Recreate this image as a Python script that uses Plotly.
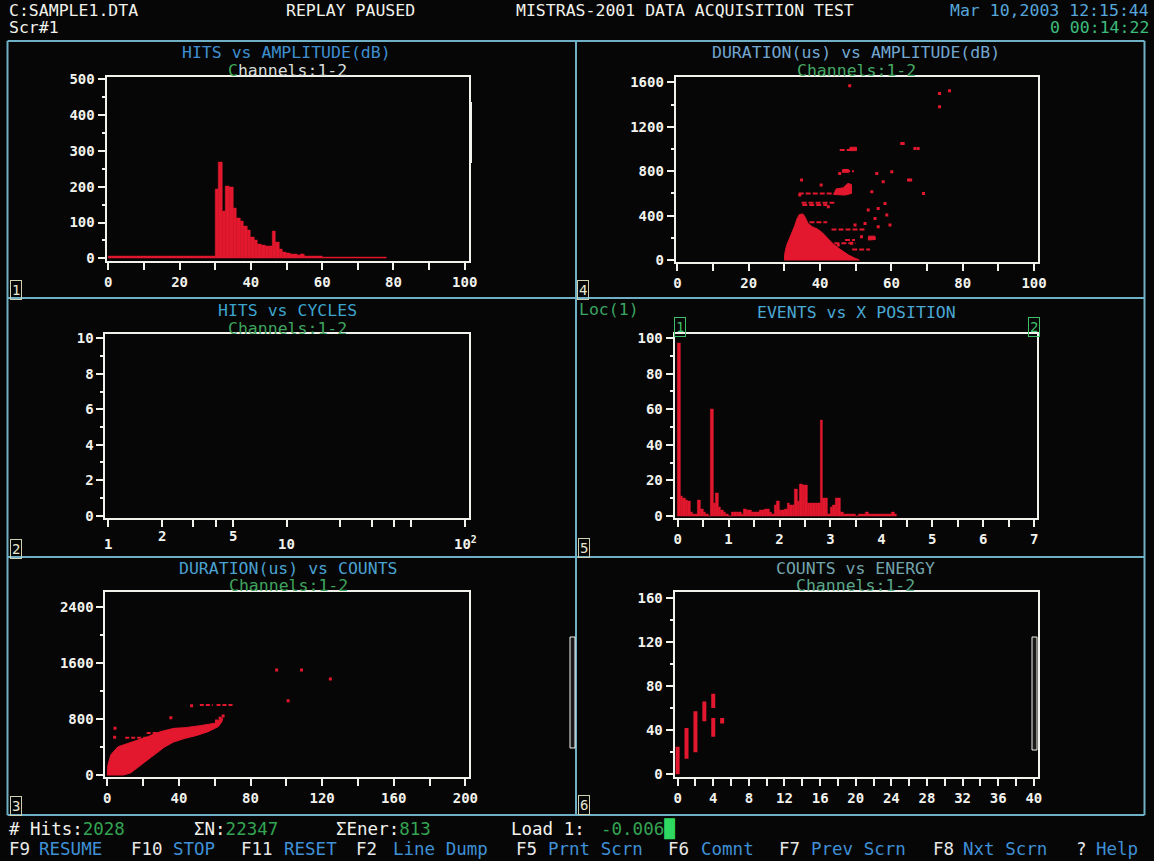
import math
import plotly.graph_objects as go

W, H = 1154, 861
BG = "#060606"
RED = "#e3182e"
WHITE = "#f2f2ec"
FRAME = "#6fb0c6"
MONO = "DejaVu Sans Mono"

# ---------------- data ----------------
# Panel 1: hits per 1 dB amplitude bin (bin start, dB)
AMP_DB = list(range(78))
HITS_PER_DB = [5, 5, 5, 5, 5, 5, 5, 5, 5, 5,
               5, 5, 5, 5, 5, 5, 5, 5, 5, 5,
               5, 5, 5, 5, 5, 5, 5, 5, 5, 5,
               192, 268, 131, 201, 198, 141, 113, 103, 90, 79,
               60, 51, 40, 37, 33, 34, 76, 46, 24, 16,
               14, 12, 10, 9, 10, 7, 7, 6, 6, 5,
               4, 4, 4, 4, 4, 4, 4, 4, 4, 4,
               4, 4, 4, 4, 4, 4, 4, 4]
AMP_TICKS = [0, 20, 40, 60, 80, 100]
HITS_TICKS = [0, 100, 200, 300, 400, 500]

# Panel 2: hits vs cycles (no hits recorded)
CYCLE_TICKS = [1, 2, 3, 4, 5, 10, 20, 30, 40, 50, 100]
CYCLE_LABELS = [(1, "1", 544), (2, "2", 536), (5, "5", 536), (10, "10", 544), (100, "10<sup>2</sup>", 543)]
CYCLE_HITS_TICKS = [0, 2, 4, 6, 8, 10]

# Panel 3: duration (us) vs counts
DC_CORE_COUNTS = [0, 0.3, 2, 5.8, 11.4, 17.6, 22.7, 26.9, 31, 37.2, 43.4, 51.7, 59.9, 63, 64.5,
                  64, 62, 56, 50, 43, 37, 32, 28, 23, 18, 13, 9, 0]
DC_CORE_DUR = [0, 140, 290, 400, 450, 500, 547, 594, 627, 665, 675, 703, 737, 790, 810,
               760, 690, 615, 565, 520, 470, 400, 320, 220, 120, 30, 0, 0]
DC_STREAKS = [(51.7, 58.9, 998), (61.0, 70.2, 998), (10.0, 27.0, 532), (22.0, 34.0, 600)]
DC_DOT_COUNTS = [4.3, 4.1, 47.1, 94.6, 108.5, 124.6, 101.0, 35.5, 63.0, 64.7, 61.0, 45.0]
DC_DOT_DUR = [665, 540, 989, 1497, 1497, 1369, 1060, 817, 808, 840, 770, 640]
COUNT_TICKS = [0, 40, 80, 120, 160, 200]
DC_DUR_TICKS = [0, 800, 1600, 2400]

# Panel 4: duration (us) vs amplitude (dB)
DA_CORE_AMP = [30.0, 30.1, 30.6, 31.4, 32.2, 32.9, 33.5, 34.2, 35.2, 35.9, 36.6, 37.8, 39.2,
               40.5, 42.0, 43.5, 45.0, 46.5, 48.0, 49.5, 51.0, 30.0]
DA_CORE_DUR = [0, 60, 130, 190, 250, 310, 370, 410, 415, 380, 330, 300, 280,
               250, 200, 150, 110, 75, 45, 20, 0, 0]
DA_BLOBS = [
    ([43.8, 44.5, 46.5, 47.8, 48.8, 48.8, 47.0, 45.0], [590, 640, 650, 690, 680, 600, 585, 585]),
    ([48.3, 48.4, 50.2, 50.2], [985, 1015, 1015, 985]),
    ([53.5, 53.6, 55.4, 55.5], [180, 215, 215, 185]),
    ([46.2, 46.3, 48.0, 48.0], [790, 815, 815, 790]),
]
DA_STREAKS = [(34.0, 44.0, 600), (34.8, 44.0, 515), (35.0, 42.0, 495), (43.2, 52.6, 275),
              (47.0, 49.8, 180), (37.0, 42.0, 340), (45.5, 49.0, 990), (47.0, 49.5, 800),
              (44.0, 50.0, 150), (49.0, 54.0, 95)]
DA_DOT_AMP = [48.3, 73.5, 76.3, 73.5, 63.3, 67.5, 69.0, 65.4, 55.9, 60.1, 57.7, 64.8, 62.9,
              66.6, 54.5, 58.2, 56.3, 53.5, 55.4, 58.7, 59.6, 56.3, 52.6, 49.8, 51.6, 48.8,
              45.1, 45.5, 34.8, 34.3, 40.3, 42.3]
DA_DOT_DUR = [1570, 1500, 1525, 1380, 1050, 1005, 600, 720, 780, 795, 705, 720, 1050,
              1005, 615, 510, 465, 450, 375, 405, 315, 300, 330, 315, 210, 150,
              135, 780, 720, 585, 675, 480]
DUR_TICKS = [0, 400, 800, 1200, 1600]

# Panel 5: located events per 0.05 position bin
POS_BIN = 0.05
EVENTS_PER_BIN = [97, 11, 10, 9, 8, 2, 1, 1, 9, 4,
                  2, 1, 0, 60, 7, 13, 5, 3, 2, 1,
                  0, 2, 2, 2, 2, 1, 4, 3, 3, 2,
                  2, 2, 3, 3, 4, 4, 2, 1, 6, 8,
                  3, 3, 4, 7, 6, 6, 15, 8, 18, 17,
                  17, 7, 7, 7, 7, 7, 54, 10, 10, 1,
                  5, 6, 10, 10, 2, 1, 1, 1, 1, 1,
                  0, 1, 1, 1, 2, 1, 1, 1, 1, 1,
                  1, 1, 1, 1, 2, 1]
POS_TICKS = [0, 1, 2, 3, 4, 5, 6, 7]
EVENT_TICKS = [0, 20, 40, 60, 80, 100]

# Panel 6: counts vs energy (vertical runs per energy value)
CE_ENERGY = [0, 1, 2, 3, 4, 4, 5]
CE_COUNT_LO = [0, 14, 20, 48, 60, 34, 46]
CE_COUNT_HI = [25, 42, 57, 66, 73, 51, 51]
ENERGY_TICKS = [0, 4, 8, 12, 16, 20, 24, 28, 32, 36, 40]
CE_COUNT_TICKS = [0, 40, 80, 120, 160]


# ---------------- helpers ----------------
def fx(x):
    return x / W


def fy(y):
    return 1 - y / H


TICKFONT = dict(family=MONO, size=14, color=WHITE, weight="bold")


def base_axis(**kw):
    d = dict(showline=True, linecolor=WHITE, linewidth=2, mirror=True, automargin=False,
             ticks="outside", tickcolor=WHITE, tickwidth=2, ticklen=7,
             showgrid=False, zeroline=False, fixedrange=True, tickfont=TICKFONT)
    d.update(kw)
    return d


def xaxis(left, right, rng, anchor, ticks=None, minor_step=None, **kw):
    if ticks is not None:
        kw.update(tickmode="array", tickvals=ticks, ticktext=[str(t) for t in ticks])
    if minor_step is not None:
        kw["minor"] = dict(dtick=minor_step, tick0=0, ticks="outside", ticklen=7,
                           tickwidth=2, tickcolor=WHITE, showgrid=False)
    return base_axis(domain=[fx(left), fx(right)], range=rng, anchor=anchor, **kw)


def yaxis(top, bottom, rng, anchor, ticks, minor_step):
    return base_axis(domain=[fy(bottom), fy(top)], range=rng, anchor=anchor,
                     tickmode="array", tickvals=ticks, ticktext=[str(t) for t in ticks],
                     minor=dict(dtick=minor_step, tick0=0, ticks="outside", ticklen=3,
                                tickwidth=2, tickcolor=WHITE, showgrid=False))


def segments(x0s, x1s, ys):
    xs, yv = [], []
    for a, b, c in zip(x0s, x1s, ys):
        xs += [a, b, None]
        yv += [c, c, None]
    return xs, yv


fig = go.Figure()

# Panel 1: HITS vs AMPLITUDE
fig.add_trace(go.Bar(x=[b + 0.5 for b in AMP_DB], y=HITS_PER_DB, width=1,
                     marker=dict(color=RED, line=dict(color=RED, width=0.5)),
                     xaxis="x", yaxis="y", hoverinfo="skip"))

# Panel 2: HITS vs CYCLES (empty)
fig.add_trace(go.Scatter(x=[], y=[], xaxis="x2", yaxis="y2", mode="markers"))

# Panel 3: DURATION vs COUNTS
fig.add_trace(go.Scatter(x=DC_CORE_COUNTS, y=DC_CORE_DUR, fill="toself", fillcolor=RED,
                         mode="lines", line=dict(color=RED, width=1),
                         xaxis="x3", yaxis="y3", hoverinfo="skip"))
sx, sy = segments([s[0] for s in DC_STREAKS], [s[1] for s in DC_STREAKS], [s[2] for s in DC_STREAKS])
fig.add_trace(go.Scatter(x=sx, y=sy, mode="lines", line=dict(color=RED, width=2, dash="4px,2px"),
                         xaxis="x3", yaxis="y3", hoverinfo="skip"))
fig.add_trace(go.Scatter(x=DC_DOT_COUNTS, y=DC_DOT_DUR, mode="markers",
                         marker=dict(symbol="square", size=3, color=RED),
                         xaxis="x3", yaxis="y3", hoverinfo="skip"))

# Panel 4: DURATION vs AMPLITUDE
fig.add_trace(go.Scatter(x=DA_CORE_AMP, y=DA_CORE_DUR, fill="toself", fillcolor=RED,
                         mode="lines", line=dict(color=RED, width=1),
                         xaxis="x4", yaxis="y4", hoverinfo="skip"))
for bx, by in DA_BLOBS:
    fig.add_trace(go.Scatter(x=bx + [bx[0]], y=by + [by[0]], fill="toself", fillcolor=RED,
                             mode="lines", line=dict(color=RED, width=1),
                             xaxis="x4", yaxis="y4", hoverinfo="skip"))
sx, sy = segments([s[0] for s in DA_STREAKS], [s[1] for s in DA_STREAKS], [s[2] for s in DA_STREAKS])
fig.add_trace(go.Scatter(x=sx, y=sy, mode="lines", line=dict(color=RED, width=2, dash="5px,2px"),
                         xaxis="x4", yaxis="y4", hoverinfo="skip"))
fig.add_trace(go.Scatter(x=DA_DOT_AMP, y=DA_DOT_DUR, mode="markers",
                         marker=dict(symbol="square", size=3, color=RED),
                         xaxis="x4", yaxis="y4", hoverinfo="skip"))

# Panel 5: EVENTS vs X POSITION
fig.add_trace(go.Bar(x=[(i + 0.5) * POS_BIN for i in range(len(EVENTS_PER_BIN))],
                     y=EVENTS_PER_BIN, width=POS_BIN,
                     marker=dict(color=RED, line=dict(color=RED, width=0.5)),
                     xaxis="x5", yaxis="y5", hoverinfo="skip"))

# Panel 6: COUNTS vs ENERGY
vx, vy = [], []
for e, lo, hi in zip(CE_ENERGY, CE_COUNT_LO, CE_COUNT_HI):
    vx += [e, e, None]
    vy += [lo, hi, None]
fig.add_trace(go.Scatter(x=vx, y=vy, mode="lines", line=dict(color=RED, width=4),
                         xaxis="x6", yaxis="y6", hoverinfo="skip"))

# ---------------- axes ----------------
layout_axes = dict(
    xaxis=xaxis(106.5, 469.0, [-0.5, 101.2], "y", AMP_TICKS, 10),
    yaxis=yaxis(77.3, 260.7, [-6.7, 505.6], "x", HITS_TICKS, 50),
    xaxis2=xaxis(105.4, 469.1, [-0.015, 2.023], "y2", type="log", tickmode="array",
                 tickvals=CYCLE_TICKS, showticklabels=False),
    yaxis2=yaxis(334.3, 518.3, [-0.15, 10.23], "x2", CYCLE_HITS_TICKS, 1),
    xaxis3=xaxis(105.4, 469.1, [-1.06, 202.1], "y3", COUNT_TICKS, 20),
    yaxis3=yaxis(592.3, 776.7, [-24, 2605], "x3", DC_DUR_TICKS, 400),
    xaxis4=xaxis(675.7, 1038.3, [-0.5, 101.2], "y4", AMP_TICKS, 10),
    yaxis4=yaxis(77.3, 261.7, [-15, 1645], "x4", DUR_TICKS, 200),
    xaxis5=xaxis(674.6, 1037.2, [-0.06, 7.06], "y5", POS_TICKS, 0.5),
    yaxis5=yaxis(334.3, 517.7, [-1.0, 102.1], "x5", EVENT_TICKS, 10),
    xaxis6=xaxis(674.6, 1038.3, [-0.34, 40.5], "y6", ENERGY_TICKS, 2),
    yaxis6=yaxis(592.3, 776.7, [-2.2, 164.9], "x6", CE_COUNT_TICKS, 20),
)

# ---------------- text ----------------
ann = []


def text(x, y, s, color=WHITE, size=17.5, anchor="left", **kw):
    ann.append(dict(x=fx(x), y=fy(y), xref="paper", yref="paper", text=s, showarrow=False,
                    xanchor=anchor, yanchor="middle", borderpad=0,
                    font=dict(family=MONO, size=size, color=color), **kw))


def boxed(x, y, s, color, border):
    ann.append(dict(x=fx(x), y=fy(y), xref="paper", yref="paper", text=s, showarrow=False,
                    xanchor="center", yanchor="middle", bordercolor=border, borderwidth=1,
                    borderpad=1, font=dict(family=MONO, size=14, color=color)))


# header
HS = 16.5
text(8, 10, "C:SAMPLE1.DTA", size=HS)
text(8, 28, "Scr#1", size=HS)
text(285, 10, "REPLAY PAUSED", size=HS)
text(515, 10, "MISTRAS-2001 DATA ACQUISITION TEST", size=HS)
text(1150, 10, "Mar 10,2003 12:15:44", color="#56a6da", anchor="right", size=HS)
text(1150, 28, "0 00:14:22", color="#3cbc7c", anchor="right", size=HS)

# panel titles
GREEN = "#3fa45e"
TS = 16.5
text(286, 52.5, "HITS vs AMPLITUDE(dB)", color="#3f8fd0", anchor="center", size=TS)
text(287, 70, "<span style='color:#3faa55'>C</span><span style='color:#d8ddd8'>hannels:1-2</span>",
     color="#d8ddd8", anchor="center", size=TS)
text(856, 52.5, "DURATION(us) vs AMPLITUDE(dB)", color="#72a6d2", anchor="center", size=TS)
text(856, 70, "Channels:1-2", color="#45a865", anchor="center", size=TS)
text(287, 310.5, "HITS vs CYCLES", color="#3ca4cc", anchor="center", size=TS)
text(287, 328, "Channels:1-2", color=GREEN, anchor="center", size=TS)
text(856, 312, "EVENTS vs X POSITION", color="#4aa8d4", anchor="center", size=TS)
text(578, 310, "Loc(1)", color="#3aa462", size=TS)
text(288, 568, "DURATION(us) vs COUNTS", color="#4aa2d2", anchor="center", size=TS)
text(288, 585.5, "Channels:1-2", color=GREEN, anchor="center", size=TS)
text(855, 568, "COUNTS vs ENERGY", color="#74a4ac", anchor="center", size=TS)
text(855, 585.5, "Channels:1-2", color="#5aa88a", anchor="center", size=TS)

# sensor markers on the location plot
boxed(680, 326.5, "1", "#3fbf6a", "#3fbf6a")
boxed(1034, 326.5, "2", "#3fbf6a", "#3fbf6a")

# panel numbers
for nx, ny, s in [(15.5, 289.5, "1"), (16, 548.7, "2"), (15.5, 805.5, "3"),
                  (583, 290, "4"), (584, 548, "5"), (584, 805, "6")]:
    boxed(nx, ny, s, "#e6e6d2", "#cfd0b0")

# cycle axis labels (staggered)
for v, s, yy in CYCLE_LABELS:
    ann.append(dict(x=math.log10(v), y=fy(yy), xref="x2", yref="paper", text=s, showarrow=False,
                    xanchor="center", yanchor="middle", font=TICKFONT))

# footer status line
NUM = "#33a452"
text(8, 829, f"# Hits:<span style='color:{NUM}'>2028</span>")
text(193, 829, f"\u03a3N:<span style='color:{NUM}'>22347</span>")
text(335, 829, f"\u03a3Ener:<span style='color:{NUM}'>813</span>")
text(510, 829, "Load 1:")
text(600, 829, f"-0.006<span style='color:#2fd860'>\u2588</span>", color=NUM)

KEY_BLUE = "#3f90d6"
FKEYS = [(8, "F9"), (130, "F10"), (240, "F11"), (355, "F2"), (515, "F5"),
         (667, "F6"), (778, "F7"), (932, "F8"), (1075, "?")]
FLABELS = [(38, "RESUME"), (172, "STOP"), (283, "RESET"), (392, "Line Dump"),
           (547, "Prnt Scrn"), (700, "Comnt"), (810, "Prev Scrn"), (962, "Nxt Scrn"), (1095, "Help")]
for kx, s in FKEYS:
    text(kx, 849, s, color="#e8e8e8")
for kx, s in FLABELS:
    text(kx, 849, s, color=KEY_BLUE)

# ---------------- window frame ----------------
shapes = []


def hline(x0, x1, y, color=FRAME, w=2):
    shapes.append(dict(type="line", xref="paper", yref="paper", x0=fx(x0), x1=fx(x1),
                       y0=fy(y), y1=fy(y), line=dict(color=color, width=w)))


def vline(x, y0, y1, color=FRAME, w=2):
    shapes.append(dict(type="line", xref="paper", yref="paper", x0=fx(x), x1=fx(x),
                       y0=fy(y0), y1=fy(y1), line=dict(color=color, width=w)))


hline(7.5, 1144.5, 41)
hline(7.5, 1144.5, 298)
hline(7.5, 1144.5, 557)
hline(7.5, 1144.5, 815)
vline(7.5, 41, 815)
vline(576, 41, 815)
vline(1144.5, 41, 815)

# scroll indicators at plot edges
vline(471, 102, 163, color=WHITE, w=2)
for x0, x1, y0, y1 in [(570, 575, 637, 748), (1032, 1037, 637, 750)]:
    shapes.append(dict(type="rect", xref="paper", yref="paper", x0=fx(x0), x1=fx(x1),
                       y0=fy(y1), y1=fy(y0), line=dict(color=WHITE, width=1), fillcolor="#1a1a1a"))

fig.update_layout(
    width=W, height=H, margin=dict(l=0, r=0, t=0, b=0, pad=0, autoexpand=False),
    paper_bgcolor=BG, plot_bgcolor=BG, showlegend=False,
    bargap=0, annotations=ann, shapes=shapes, **layout_axes,
)

fig.write_html("out.html")
